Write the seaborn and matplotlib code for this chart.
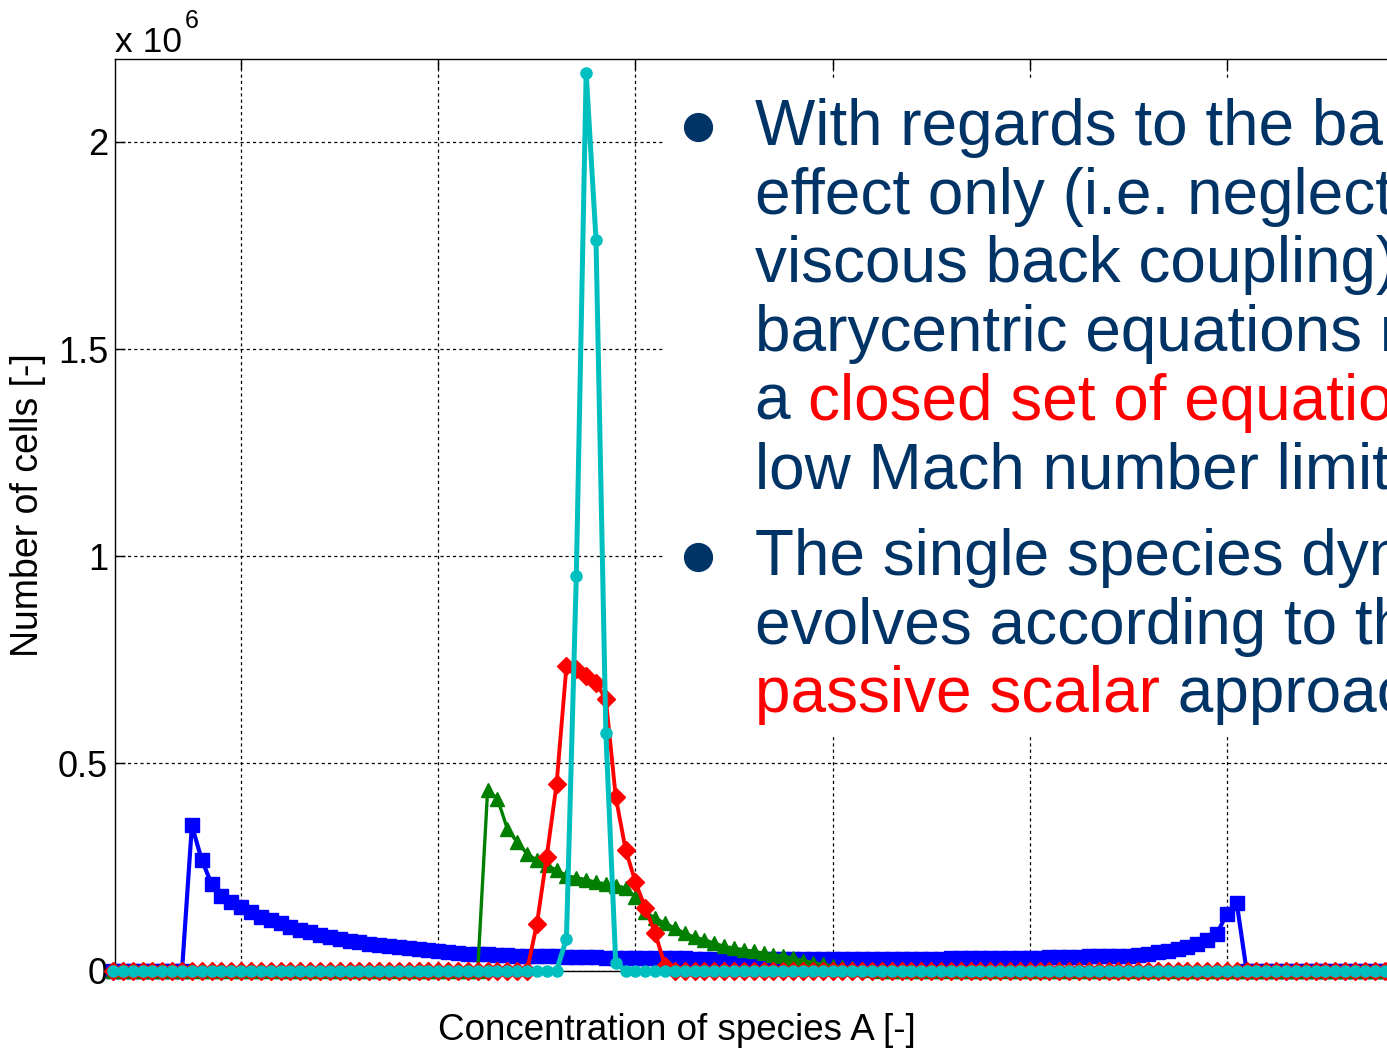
import numpy as np
import pandas as pd
import matplotlib
matplotlib.use("Agg")
import matplotlib.pyplot as plt
from matplotlib.lines import Line2D
from matplotlib.patches import Rectangle
import seaborn as sns

# ---------------------------------------------------------------
# Histogram of species-A concentration (bin width 0.01),
# number of cells per bin in units of 10^6
# ---------------------------------------------------------------
bins = np.round(np.arange(7, 141) * 0.01, 2)

blue_start = 0.15
blue_vals = [
    0.350, 0.267, 0.209, 0.181, 0.165, 0.153, 0.141, 0.130, 0.122, 0.114,
    0.105, 0.098, 0.093, 0.086, 0.082, 0.077, 0.072, 0.068, 0.065, 0.062,
    0.059, 0.056, 0.054, 0.051, 0.049, 0.047, 0.044, 0.042, 0.041, 0.040,
    0.039, 0.038, 0.037, 0.036, 0.035, 0.035, 0.034, 0.034, 0.033, 0.033,
    0.032, 0.032, 0.031, 0.031, 0.030, 0.030, 0.030, 0.029, 0.029, 0.029,
    0.029, 0.028, 0.028, 0.028, 0.028, 0.028, 0.028, 0.028, 0.028, 0.028,
    0.028, 0.028, 0.028, 0.028, 0.028, 0.028, 0.028, 0.028, 0.028, 0.028,
    0.028, 0.028, 0.028, 0.028, 0.028, 0.028, 0.028, 0.029, 0.029, 0.029,
    0.030, 0.030, 0.030, 0.031, 0.031, 0.031, 0.031, 0.032, 0.032, 0.033,
    0.033, 0.034, 0.034, 0.035, 0.035, 0.036, 0.038, 0.040, 0.044, 0.048,
    0.052, 0.056, 0.064, 0.074, 0.089, 0.137, 0.163,
]

green_start = 0.45
green_vals = [
    0.435, 0.415, 0.342, 0.310, 0.282, 0.266, 0.254, 0.242, 0.229, 0.224,
    0.219, 0.213, 0.209, 0.205, 0.199, 0.177, 0.141, 0.126, 0.114, 0.102,
    0.090, 0.080, 0.074, 0.066, 0.058, 0.054, 0.050, 0.046, 0.042, 0.038,
    0.035, 0.030, 0.024, 0.019, 0.015, 0.011, 0.009, 0.006, 0.004, 0.002,
]

red_start = 0.50
red_vals = [
    0.112, 0.275, 0.450, 0.734, 0.728, 0.712, 0.694, 0.655, 0.419, 0.292,
    0.213, 0.151, 0.090, 0.012,
]

cyan_start = 0.53
cyan_vals = [0.077, 0.952, 2.167, 1.763, 0.573, 0.019]


def full_series(start, vals):
    y = np.zeros(len(bins))
    i0 = int(round((start - bins[0]) / 0.01))
    y[i0:i0 + len(vals)] = vals
    return y


# name, values, colour, marker, marker size, line width
series = [
    ("blue", full_series(blue_start, blue_vals), "#0000ff", "s", 9.5, 3.0),
    ("green", full_series(green_start, green_vals), "#007f00", "^", 10.0, 2.4),
    ("red", full_series(red_start, red_vals), "#ff0000", "D", 9.0, 2.8),
    ("cyan", full_series(cyan_start, cyan_vals), "#00bfbf", "o", 8.0, 3.6),
]

# ---------------------------------------------------------------
W, H = 1387, 1050
sns.set_theme(style="white")
plt.rcParams["font.family"] = ["Liberation Sans", "DejaVu Sans"]

fig = plt.figure(figsize=(W / 100, H / 100), dpi=100)
fig.patch.set_facecolor("white")


def fx(px):
    return px / W


def fy(py):
    return 1 - py / H


ax_left, ax_right, ax_top, ax_bottom = 115, 1424, 59, 970.5
ax = fig.add_axes([fx(ax_left), fy(ax_bottom),
                   (ax_right - ax_left) / W, (ax_bottom - ax_top) / H])
ax.set_facecolor("white")

for z, (name, yv, col, mk, ms, lw) in enumerate(series):
    df = pd.DataFrame({"conc": bins, "cells": yv})
    sns.lineplot(data=df, x="conc", y="cells", ax=ax, color=col, marker=mk,
                 markersize=ms, linewidth=lw, markeredgecolor=col,
                 markerfacecolor=col, markeredgewidth=1.0,
                 estimator=None, errorbar=None, clip_on=False,
                 zorder=3 + z, legend=False)

ax.set_xlim(0.072, 1.40)
ax.set_ylim(0, 2.2)
ax.set_xticks([0.2, 0.4, 0.6, 0.8, 1.0, 1.2])
ax.set_xticklabels([])
ax.set_yticks([0, 0.5, 1.0, 1.5, 2.0])
ax.set_yticklabels(["0", "0.5", "1", "1.5", "2"])
ax.tick_params(axis="both", direction="in", length=7, width=1, color="black",
               top=True, bottom=True, left=True, right=False,
               labelsize=26, labelcolor="black", pad=5)
ax.grid(True, color="black", linestyle=(0, (2.5, 2.5)), linewidth=0.9)
ax.set_axisbelow(True)
for s in ax.spines.values():
    s.set_color("black")
    s.set_linewidth(1.0)
ax.set_xlabel("")
ax.set_ylabel("")

# axis labels and exponent
fig.text(fx(677), fy(1030), "Concentration of species A [-]", fontsize=26.5,
         ha="center", va="center", color="black")
fig.text(fx(28), fy(505), "Number of cells [-]", fontsize=27, rotation=90,
         ha="center", va="center", color="black")
fig.text(fx(115), fy(52), "x 10", fontsize=25.5, ha="left", va="baseline",
         color="black")
fig.text(fx(185), fy(28), "6", fontsize=18, ha="left", va="baseline",
         color="black")

# ---------------------------------------------------------------
# bullet text panel
fig.add_artist(Rectangle((fx(663), fy(735)), 1 - fx(663), fy(80) - fy(735),
                         transform=fig.transFigure, facecolor="white",
                         edgecolor="none", zorder=10))

navy = "#003366"
red = "#ff0000"
fs = 46
x_text = 755
renderer = fig.canvas.get_renderer()


def text_width(s):
    t = fig.text(0, 0, s, fontsize=fs)
    w = t.get_window_extent(renderer).width
    t.remove()
    return w


def draw_line(y_base, parts):
    prefix = ""
    for s, col in parts:
        off = text_width(prefix + s[0]) - text_width(s[0]) if prefix else 0.0
        fig.text(fx(x_text + off), fy(y_base), s, fontsize=fs, color=col,
                 ha="left", va="baseline", zorder=11)
        prefix += s


lines_1 = [
    [("With regards to the ba", navy)],
    [("effect only (i.e. neglect", navy)],
    [("viscous back coupling)", navy)],
    [("barycentric equations r", navy)],
    [("a ", navy), ("closed set of equatio", red)],
    [("low Mach number limit", navy)],
]
lines_2 = [
    [("The single species dyn", navy)],
    [("evolves according to th", navy)],
    [("passive scalar", red), (" approac", navy)],
]

step = 68.7
for i, parts in enumerate(lines_1):
    draw_line(145 + i * step, parts)
for i, parts in enumerate(lines_2):
    draw_line(575 + i * step, parts)

for by in (127, 557):
    fig.add_artist(Line2D([fx(698)], [fy(by)], marker="o", markersize=20,
                          color=navy, transform=fig.transFigure, zorder=11))

fig.savefig("out.png", dpi=100, facecolor="white")
